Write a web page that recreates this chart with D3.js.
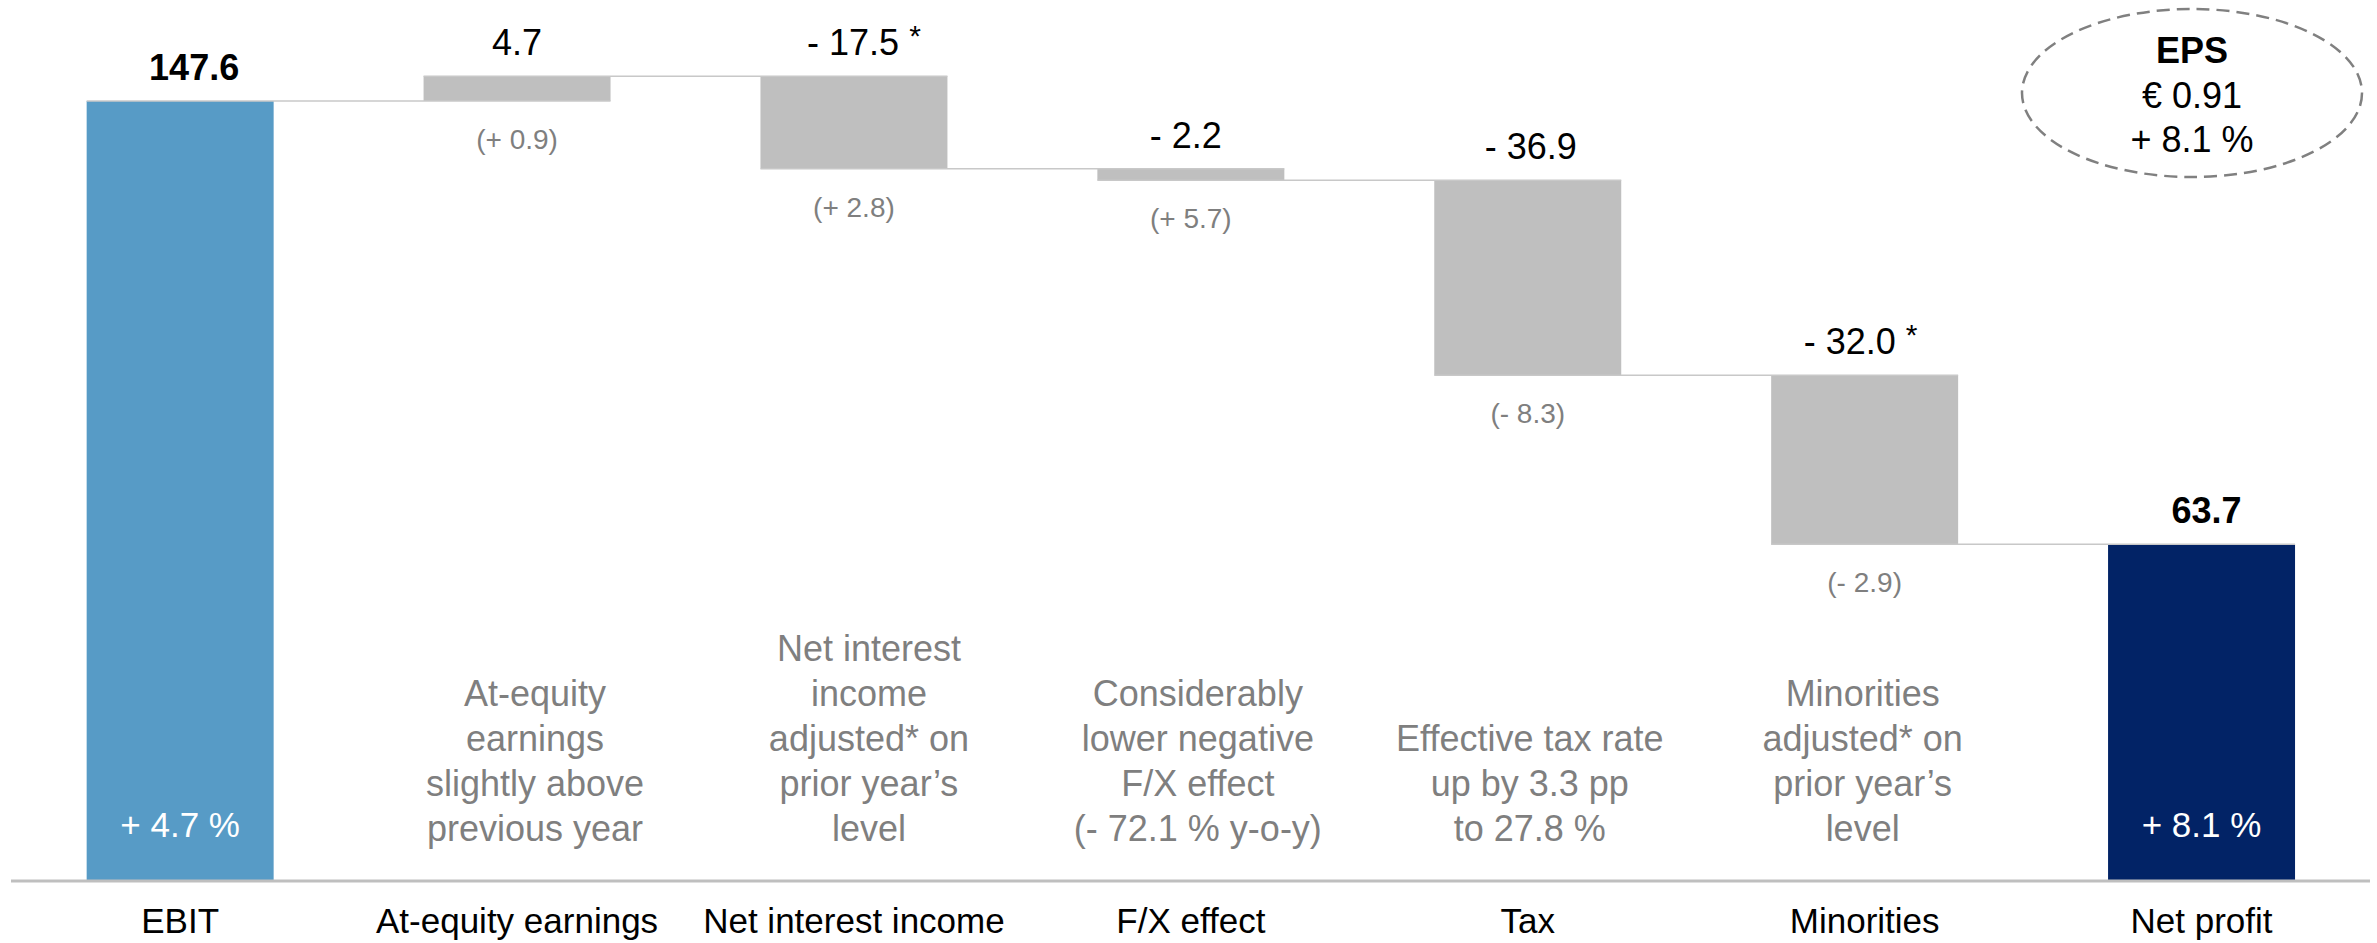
<!DOCTYPE html>
<html>
<head>
<meta charset="utf-8">
<script src="https://cdn.jsdelivr.net/npm/d3@7"></script>
<style>
  html, body { margin: 0; padding: 0; background: #ffffff; }
  svg { display: block; }
  text { font-family: "Liberation Sans", Arial, sans-serif; }
</style>
</head>
<body>
<svg id="chart" width="2377" height="943"></svg>
<script>
// ---------------- data ----------------
const categories = ["EBIT", "At-equity earnings", "Net interest income", "F/X effect", "Tax", "Minorities", "Net profit"];
const values = [147.6, 4.7, -17.5, -2.2, -36.9, -32.0, 63.7];
const kinds = ["total", "delta", "delta", "delta", "delta", "delta", "total"];
const valueLabels = ["147.6", "4.7", "- 17.5", "- 2.2", "- 36.9", "- 32.0", "63.7"];
const footnoteMarks = ["", "", "*", "", "", "*", ""];
const priorYearChanges = [null, "(+ 0.9)", "(+ 2.8)", "(+ 5.7)", "(- 8.3)", "(- 2.9)", null];
const growthLabels = ["+ 4.7 %", null, null, null, null, null, "+ 8.1 %"];
const comments = [
  [],
  ["At-equity", "earnings", "slightly above", "previous year"],
  ["Net interest", "income", "adjusted* on", "prior year\u2019s", "level"],
  ["Considerably", "lower negative", "F/X effect", "(- 72.1 % y-o-y)"],
  ["Effective tax rate", "up by 3.3 pp", "to 27.8 %"],
  ["Minorities", "adjusted* on", "prior year\u2019s", "level"],
  []
];
const epsLines = ["EPS", "\u20ac 0.91", "+ 8.1 %"];

// ---------------- layout / style ----------------
const W = 2377, H = 943;
const baseY = 881;
const colors = { start: "#579BC6", end: "#022366", delta: "#BFBFBF", gray: "#7F7F7F", conn: "#C8C8C8", axis: "#BFBFBF" };
const labelDx = [14, 0, 10, -5, 3, -4, 5];
const commentDx = [0, 18, 15, 7, 2, -2, 0];

// compute waterfall extents
let running = 0;
const bars = categories.map((c, i) => {
  let lo, hi, end;
  if (kinds[i] === "total") {
    lo = 0; hi = values[i]; end = values[i];
  } else {
    const s = running, e = running + values[i];
    lo = Math.min(s, e); hi = Math.max(s, e); end = e;
  }
  running = end;
  return { cat: c, i, lo, hi, end };
});

const svg = d3.select("#chart");

const x = d3.scaleBand()
  .domain(categories)
  .range([11.7, 2370])
  .paddingInner(0.445)
  .paddingOuter(0.2225);

const y = d3.scaleLinear()
  .domain([0, 147.6])
  .range([baseY, 101]);

const bw = x.bandwidth();

// bars
svg.append("g").selectAll("rect")
  .data(bars)
  .join("rect")
  .attr("x", d => x(d.cat))
  .attr("y", d => y(d.hi))
  .attr("width", bw)
  .attr("height", d => y(d.lo) - y(d.hi))
  .attr("fill", (d, i) => i === 0 ? colors.start : (i === bars.length - 1 ? colors.end : colors.delta));

// connectors
svg.append("g").selectAll("line")
  .data(bars.slice(0, -1))
  .join("line")
  .attr("x1", d => x(d.cat))
  .attr("x2", d => x(categories[d.i + 1]) + bw)
  .attr("y1", d => y(d.end))
  .attr("y2", d => y(d.end))
  .attr("stroke", colors.conn)
  .attr("stroke-width", 1.5);

// axis (baseline + category labels)
const axis = d3.axisBottom(x).tickSize(0).tickPadding(0);
const ax = svg.append("g").attr("transform", `translate(0,${baseY})`).call(axis);
ax.select(".domain").attr("d", `M11,0H2370`).attr("stroke", colors.axis).attr("stroke-width", 3);
ax.selectAll(".tick text")
  .attr("y", 52)
  .attr("dy", 0)
  .attr("fill", "#000")
  .style("font-family", "'Liberation Sans', Arial, sans-serif")
  .style("font-size", "35px");

// value labels
const vl = svg.append("g").selectAll("text")
  .data(bars)
  .join("text")
  .attr("x", d => x(d.cat) + bw / 2 + labelDx[d.i])
  .attr("y", d => y(d.hi) - 21)
  .attr("text-anchor", "middle")
  .attr("font-size", 36)
  .attr("font-weight", d => kinds[d.i] === "total" ? "bold" : "normal")
  .attr("fill", "#000");
vl.append("tspan").text(d => valueLabels[d.i]);
vl.filter(d => footnoteMarks[d.i]).append("tspan")
  .attr("dx", 10)
  .attr("dy", -9)
  .attr("font-size", 30)
  .text(d => footnoteMarks[d.i]);

// prior-year change labels
svg.append("g").selectAll("text")
  .data(bars.filter(d => priorYearChanges[d.i]))
  .join("text")
  .attr("x", d => x(d.cat) + bw / 2)
  .attr("y", d => y(d.lo) + 48)
  .attr("text-anchor", "middle")
  .attr("font-size", 28)
  .attr("fill", colors.gray)
  .text(d => priorYearChanges[d.i]);

// growth labels inside total bars
svg.append("g").selectAll("text")
  .data(bars.filter(d => growthLabels[d.i]))
  .join("text")
  .attr("x", d => x(d.cat) + bw / 2)
  .attr("y", 837)
  .attr("text-anchor", "middle")
  .attr("font-size", 35)
  .attr("fill", "#fff")
  .text(d => growthLabels[d.i]);

// comments
const cg = svg.append("g");
bars.forEach(d => {
  const lines = comments[d.i];
  const n = lines.length;
  lines.forEach((ln, k) => {
    cg.append("text")
      .attr("x", x(d.cat) + bw / 2 + commentDx[d.i])
      .attr("y", 841 - (n - 1 - k) * 45)
      .attr("text-anchor", "middle")
      .attr("font-size", 36)
      .attr("fill", colors.gray)
      .text(ln);
  });
});

// EPS ellipse
const eps = svg.append("g");
eps.append("ellipse")
  .attr("cx", 2192).attr("cy", 93)
  .attr("rx", 170).attr("ry", 84)
  .attr("fill", "none")
  .attr("stroke", "#808080")
  .attr("stroke-width", 2.5)
  .attr("stroke-dasharray", "13,7");
epsLines.forEach((t, k) => {
  eps.append("text")
    .attr("x", 2192)
    .attr("y", 63 + k * 44.5)
    .attr("text-anchor", "middle")
    .attr("font-size", 36)
    .attr("font-weight", k === 0 ? "bold" : "normal")
    .attr("fill", "#000")
    .text(t);
});
</script>
</body>
</html>
